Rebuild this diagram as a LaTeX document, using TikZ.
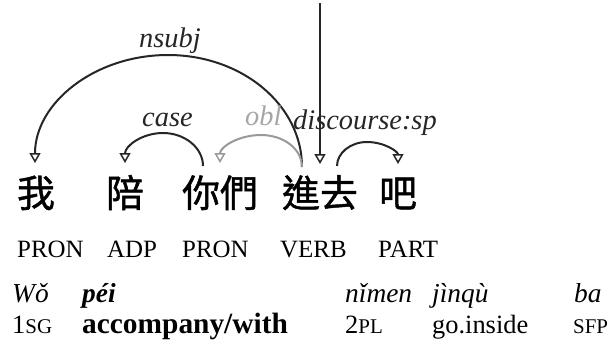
\documentclass[tikz,border=0pt]{standalone}
\usepackage{fontspec}
\setmainfont{Liberation Serif}
\newfontfamily\cjkfont[FakeBold=1.2]{Noto Sans CJK TC}
\usetikzlibrary{arrows.meta,calc}
\newcommand{\fakesc}[1]{{\fontsize{21}{21}\selectfont #1}}
\begin{document}
\begin{tikzpicture}[x=1bp,y=-1bp,
  lab/.style={inner sep=0pt, anchor=base west, font=\fontsize{28.5}{28.5}\selectfont\itshape, text=black!85},
  graylab/.style={lab, text=black!35},
  cjkw/.style={inner sep=0pt, anchor=base, font=\fontsize{38}{38}\selectfont\cjkfont},
  postag/.style={inner sep=0pt, anchor=base west, font=\fontsize{25}{25}\selectfont},
  pinyin/.style={inner sep=0pt, anchor=base west, font=\fontsize{27.5}{27.5}\selectfont\itshape},
  gloss/.style={inner sep=0pt, anchor=base west, font=\fontsize{26.5}{26.5}\selectfont},
  boldgloss/.style={gloss, font=\fontsize{29.5}{29.5}\selectfont\bfseries},
  deparr/.style={draw=black!85, line width=2bp, -{Triangle[open,length=10bp,width=11bp,line width=1.5bp]}},
  grayarr/.style={deparr, draw=black!40},
]
\useasboundingbox (0,0) rectangle (616,341);

% words
\node[cjkw] (w1) at (36,207) {我};
\node[cjkw] (w2) at (125,207) {陪};
\node[cjkw] (w3) at (220,207) {你們};
\node[cjkw] (w4) at (320,207) {進去};
\node[cjkw] (w5) at (398,207) {吧};

% arc end points
\coordinate (nsubjS) at ($(w4.base)+(-18,-40)$);
\coordinate (rootT) at ($(w4.base)+(0,-43)$);
\coordinate (discS) at ($(w4.base)+(17,-41)$);
\coordinate (caseS) at ($(w3.base)+(-17,-41)$);
\coordinate (oblT) at ($(w3.base)+(0,-44)$);
\coordinate (nsubjT) at ($(w1.base)+(-1,-44)$);
\coordinate (caseT) at ($(w2.base)+(0,-44)$);
\coordinate (discT) at ($(w5.base)+(0,-43)$);
\coordinate (rootS) at (320,3);

% arcs
\draw[deparr] (nsubjS) .. controls (302,105) and (242,55) .. (168,55)
                       .. controls (94.6,55) and (35,103) .. (nsubjT);
\draw[deparr] (caseS) .. controls (203,148) and (185,133) .. (163,133)
                      .. controls (142,133) and (125,146) .. (caseT);
\draw[grayarr] (nsubjS) .. controls (302,149) and (283.6,135) .. (261,135)
                        .. controls (238.4,135) and (220,147) .. (oblT);
\draw[deparr] (discS) .. controls (337,153) and (350.4,142) .. (367,142)
                      .. controls (384.1,142) and (398,151.4) .. (discT);
\draw[deparr] (rootS) -- (rootT);

% labels
\node[lab] (lnsubj) at (139,47) {nsubj};
\node[lab] (lcase) at (142,126) {case};
\node[graylab] (lobl) at (245,125) {obl};
\node[lab] (ldisc) at (293,129) {discourse:sp};

% POS
\node[postag] (p1) at (17,257) {PRON};
\node[postag] (p2) at (107,257) {ADP};
\node[postag] (p3) at (182,257) {PRON};
\node[postag] (p4) at (280,257) {VERB};
\node[postag] (p5) at (378,257) {PART};

% pinyin
\node[pinyin] (y1) at (12,302) {Wǒ};
\node[pinyin] (y2) at (82,302) {\bfseries péi};
\node[pinyin] (y3) at (345,302) {nǐmen};
\node[pinyin] (y4) at (432,302) {jìnqù};
\node[pinyin] (y5) at (574,302) {ba};

% gloss
\node[gloss] (g1) at (12,333) {1\fakesc{SG}};
\node[boldgloss] (g2) at (82,333) {accompany/with};
\node[gloss] (g3) at (345,333) {2\fakesc{PL}};
\node[gloss] (g4) at (432,333) {go.inside};
\node[gloss] (g5) at (573,333) {\fakesc{SFP}};
\end{tikzpicture}
\end{document}
